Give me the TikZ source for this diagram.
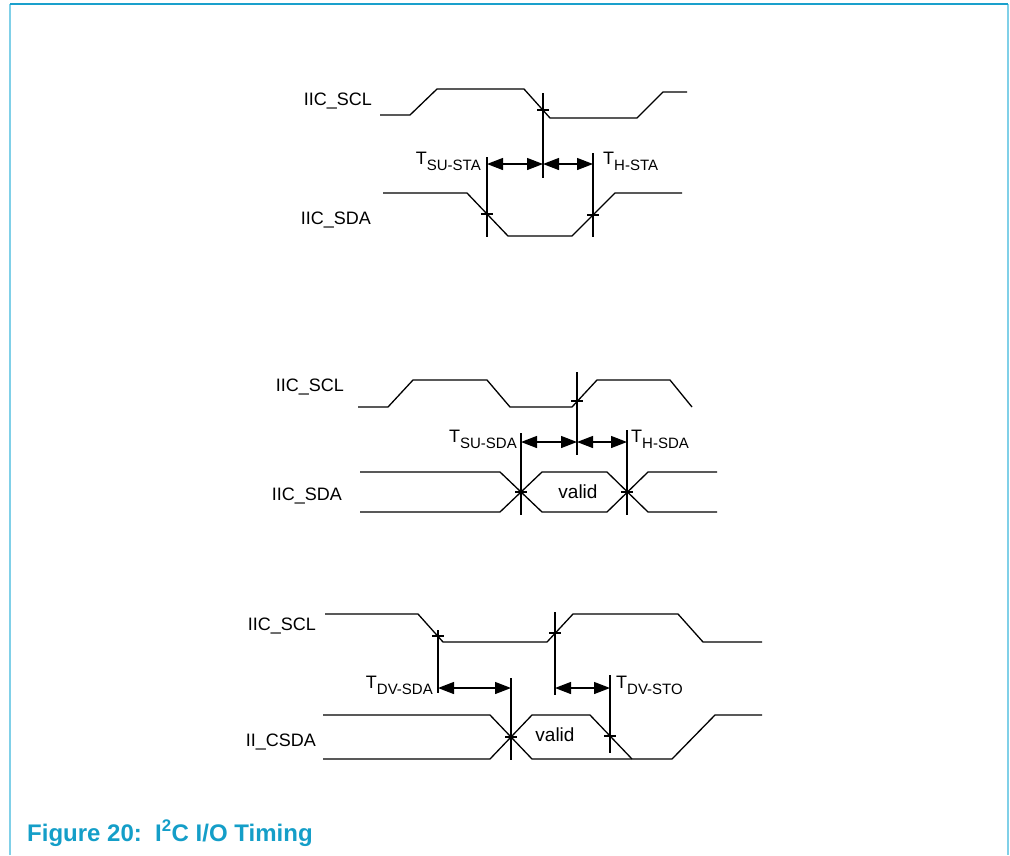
\documentclass[tikz,border=0pt]{standalone}
\usepackage{fontspec}
\setmainfont{Liberation Sans}
\usetikzlibrary{arrows.meta}
\definecolor{framecyan}{RGB}{26,160,204}
\definecolor{framelight}{RGB}{128,208,232}
\definecolor{captioncyan}{RGB}{20,158,200}
\tikzset{
  wave/.style={line width=1.3pt},
  marker/.style={line width=1.3pt},
  timing/.style={line width=1.3pt,{Triangle[length=16pt,width=12pt]}-{Triangle[length=16pt,width=12pt]}},
  signame/.style={anchor=base east,inner sep=0pt,font=\fontsize{18}{20}\selectfont},
  tleft/.style={anchor=base east,inner sep=0pt,font=\fontsize{18}{20}\selectfont},
  tright/.style={anchor=base west,inner sep=0pt,font=\fontsize{18}{20}\selectfont},
}
\newcommand{\tname}[1]{T\raisebox{-6pt}{\fontsize{15}{16}\selectfont #1}}
\begin{document}
\begin{tikzpicture}[x=1pt,y=-1pt]
    \useasboundingbox (0,0) rectangle (1010,855);
    \draw[framelight,line width=1.6pt] (10,855) -- (10,4);
    \draw[framelight,line width=1.6pt] (1008,4) -- (1008,855);
    \draw[framecyan,line width=1.6pt] (10,4) -- (1008,4);
    % start condition
    \node[signame] (scla) at (372,105) {IIC\_SCL};
    \node[signame] (sdaa) at (371,224) {IIC\_SDA};
    \draw[wave] (380,115) -- (410,115) -- (437,89) -- (524,89) -- (550,118) -- (637,118) -- (663,92) -- (687,92);
    \draw[wave] (383,193) -- (467,193) -- (508,236) -- (572,236) -- (615,193) -- (682,193);
    \coordinate (a1l) at (487,164);
    \coordinate (a1m) at (543,164);
    \coordinate (a1r) at (593,164);
    \draw[marker] (487,157) -- (487,237);
    \draw[marker] (543,93) -- (543,178);
    \draw[marker] (593,153) -- (593,237);
    \draw[timing] (a1l) -- (a1m);
    \draw[timing] (a1m) -- (a1r);
    \node[tleft] (tsusta) at ([xshift=-6pt]a1l) {\tname{SU-STA}};
    \node[tright] (thsta) at ([xshift=10pt]a1r) {\tname{H-STA}};
    % data setup and hold
    \node[signame] (sclb) at (344,391) {IIC\_SCL};
    \node[signame] (sdab) at (342,500) {IIC\_SDA};
    \draw[wave] (358,407) -- (388,407) -- (413,380) -- (487,380) -- (510,407) -- (572,407) -- (597,380) -- (670,380) -- (692,407);
    \draw[wave] (360,472) -- (500,472) -- (542,512) -- (607,512) -- (648,472) -- (717,472);
    \draw[wave] (360,512) -- (500,512) -- (542,472) -- (607,472) -- (648,512) -- (717,512);
    \node[font=\fontsize{19}{20}\selectfont] (validb) at (578,492) {valid};
    \coordinate (a2l) at (521,442);
    \coordinate (a2m) at (577,442);
    \coordinate (a2r) at (627,442);
    \draw[marker] (521,433) -- (521,515);
    \draw[marker] (577,372) -- (577,455);
    \draw[marker] (627,430) -- (627,515);
    \draw[timing] (a2l) -- (a2m);
    \draw[timing] (a2m) -- (a2r);
    \node[tleft] (tsusda) at ([xshift=-4pt]a2l) {\tname{SU-SDA}};
    \node[tright] (thsda) at ([xshift=4pt]a2r) {\tname{H-SDA}};
    % data valid and stop
    \node[signame] (sclc) at (316,630) {IIC\_SCL};
    \node[signame] (sdac) at (316,746) {II\_CSDA};
    \draw[wave] (325,614) -- (418,614) -- (443,642) -- (547,642) -- (573,614) -- (678,614) -- (703,642) -- (762,642);
    \draw[wave] (323,715) -- (490,715) -- (532,759) -- (672,759) -- (715,715) -- (762,715);
    \draw[wave] (323,759) -- (490,759) -- (532,715) -- (590,715) -- (632,759);
    \node[font=\fontsize{19}{20}\selectfont] (validc) at (555,735) {valid};
    \coordinate (a3l) at (438,688);
    \coordinate (a3m) at (511,688);
    \coordinate (a4l) at (555,688);
    \coordinate (a4r) at (610,688);
    \draw[marker] (438,630) -- (438,693);
    \draw[marker] (511,678) -- (511,760);
    \draw[marker] (555,612) -- (555,695);
    \draw[marker] (610,675) -- (610,753);
    \draw[timing] (a3l) -- (a3m);
    \draw[timing] (a4l) -- (a4r);
    \node[tleft] (tdvsda) at ([xshift=-5pt]a3l) {\tname{DV-SDA}};
    \node[tright] (tdvsto) at ([xshift=6pt]a4r) {\tname{DV-STO}};
    % crossing ticks
    \foreach \x/\y in {543/110,487/214,593/215,577/401,521/492,627/492,438/636,555/633,511/737,610/736}
        \draw[marker] (\x-6,\y) -- (\x+6,\y);
    \node[anchor=base west,inner sep=0pt,text=captioncyan,font=\bfseries\fontsize{24}{26}\selectfont] (caption) at (27,841) {Figure 20:\ \ I\textsuperscript{2}C I/O Timing};
\end{tikzpicture}
\end{document}
